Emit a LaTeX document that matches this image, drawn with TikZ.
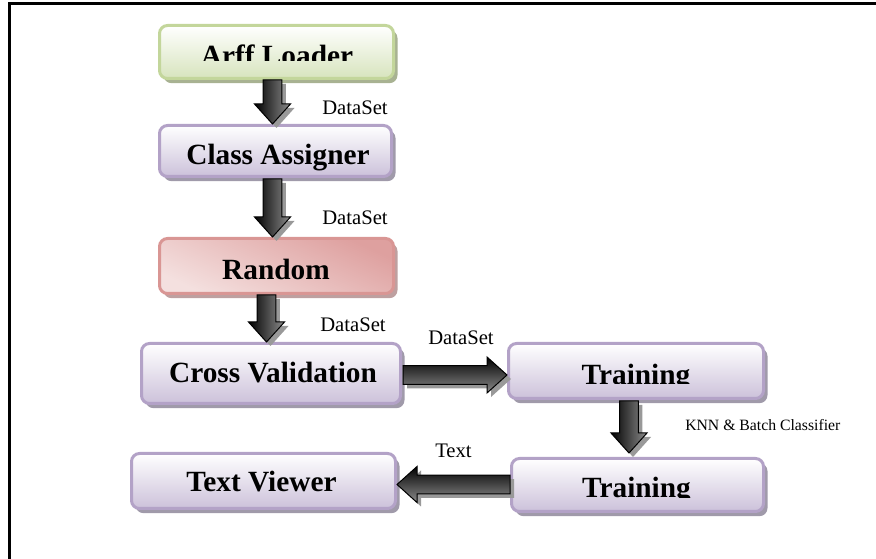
\documentclass[tikz,border=0pt]{standalone}
\usepackage{fontspec}
\setmainfont{Liberation Serif}
\usepackage{tikz}
\usetikzlibrary{calc,shadows}

\definecolor{loaderline}{RGB}{195,214,155}
\definecolor{loaderfill}{RGB}{215,228,189}
\definecolor{loadershadow}{RGB}{168,178,146}
\definecolor{stageline}{RGB}{179,162,199}
\definecolor{stagefill}{RGB}{204,193,218}
\definecolor{stageshadow}{RGB}{160,154,170}
\definecolor{randomline}{RGB}{217,150,148}
\definecolor{randomfill}{RGB}{244,224,223}
\definecolor{randomdark}{RGB}{222,160,159}
\definecolor{randomshadow}{RGB}{190,160,160}

\tikzset{
  box/.style={rectangle, rounded corners=6pt, line width=2.25pt, inner sep=0pt},
  loaderbox/.style={box, draw=loaderline, top color=white, bottom color=loaderfill,
    drop shadow={shadow xshift=3pt, shadow yshift=-3.5pt, fill=loadershadow, opacity=1}},
  stagebox/.style={box, draw=stageline, top color=white, bottom color=stagefill,
    drop shadow={shadow xshift=3pt, shadow yshift=-3.5pt, fill=stageshadow, opacity=1}},
  randombox/.style={box, draw=randomline, top color=randomdark, bottom color=randomfill, shading angle=-25,
    drop shadow={shadow xshift=3pt, shadow yshift=-3.5pt, fill=randomshadow, opacity=1}},
  boxtext/.style={anchor=base, inner sep=0pt, font=\fontsize{22}{26}\selectfont\bfseries},
  flowlabel/.style={anchor=base west, inner sep=0pt, font=\fontsize{15.5}{18}\selectfont},
  smalllabel/.style={anchor=base west, inner sep=0pt, font=\fontsize{11.8}{14}\selectfont},
  arrowshadow/.style={fill=black!40, transform canvas={shift={(3pt,-3pt)}}},
  arrowbody/.style={draw=black, line width=0.75pt, top color=black, bottom color=black!45, shading angle=#1},
}

% outline of a block arrow from (ba-s) to (ba-e)
\newcommand{\arrowoutline}{($(ba-s)!7pt!90:(ba-e)$) -- ($(ba-h)!7pt!90:(ba-e)$) -- ($(ba-h)!13.5pt!90:(ba-e)$) -- (ba-e) -- ($(ba-h)!13.5pt!-90:(ba-e)$) -- ($(ba-h)!7pt!-90:(ba-e)$) -- ($(ba-s)!7pt!-90:(ba-e)$) -- cycle}
\newcommand{\blockarrow}[3][90]{%
  \coordinate (ba-s) at (#2);
  \coordinate (ba-e) at (#3);
  \coordinate (ba-h) at ($(ba-e)!15pt!(ba-s)$);
  \fill[arrowshadow] \arrowoutline;
  \draw[arrowbody=#1] \arrowoutline;
}

\begin{document}
\begin{tikzpicture}[x=0.75pt,y=0.75pt,yscale=-1,xscale=1]
\useasboundingbox (0,0) rectangle (876,559);
%Frame
\draw [line width=2.25pt] (9,580) -- (9,4) -- (900,4) ;

%Shape: Boxes
\node [loaderbox, minimum width=175.5pt, minimum height=39.75pt] (loader) at (276.5,52) {};
\node [stagebox, minimum width=174pt, minimum height=38.25pt] (assigner) at (275.5,151) {};
\node [randombox, minimum width=175.5pt, minimum height=41.25pt] (random) at (276.5,266) {};
\node [stagebox, minimum width=194.25pt, minimum height=45pt] (crossval) at (271,373.5) {};
\node [stagebox, minimum width=191.25pt, minimum height=41.25pt] (trainA) at (636,371) {};
\node [stagebox, minimum width=189pt, minimum height=39.75pt] (trainB) at (637.5,485) {};
\node [stagebox, minimum width=198pt, minimum height=41.25pt] (viewer) at (263.5,481) {};

%Block Arrows
\blockarrow{$(loader.south)+(-4,0)$}{$(assigner.north)+(-3,0)$}
\blockarrow{$(assigner.south)+(-3,1)$}{$(random.north)+(-4,0)$}
\blockarrow{$(random.south)+(-10,0)$}{$(crossval.north)+(-4.5,0)$}
\blockarrow[0]{$(crossval.east)+(1,1.5)$}{$(trainA.west)+(0,4)$}
\blockarrow{$(trainA.south)+(-7,1)$}{$(trainB.north)+(-8.5,-4)$}
\blockarrow[0]{$(trainB.west)+(0,-0.5)$}{$(viewer.east)+(0,3.5)$}

% Text Node
\begin{scope}
\clip (150,20) rectangle (400,61);
\node [boxtext] (loadertext) at (277,66) {Arff Loader};
\end{scope}
% Text Node
\node [boxtext] (assignertext) at (278,165) {Class Assigner};
% Text Node
\node [boxtext] (randomtext) at (276,280) {Random};
% Text Node
\node [boxtext] (crossvaltext) at (273,383) {Cross Validation};
% Text Node
\begin{scope}
\clip (510,340) rectangle (765,383.5);
\node [boxtext] (trainAtext) at (636,385) {Training};
\end{scope}
% Text Node
\begin{scope}
\clip (510,455) rectangle (765,497.5);
\node [boxtext] (trainBtext) at (636.5,498) {Training};
\end{scope}
% Text Node
\node [boxtext] (viewertext) at (261.5,492) {Text Viewer};

% Text Node
\node [flowlabel] (dataA) at (322,115) {DataSet};
% Text Node
\node [flowlabel] (dataB) at (322,225) {DataSet};
% Text Node
\node [flowlabel] (dataC) at (320,332) {DataSet};
% Text Node
\node [flowlabel] (dataD) at (428,345) {DataSet};
% Text Node
\node [smalllabel] (classifier) at (685,431) {KNN \& Batch Classifier};
% Text Node
\node [flowlabel] (textout) at (435,458) {Text};
\end{tikzpicture}
\end{document}
